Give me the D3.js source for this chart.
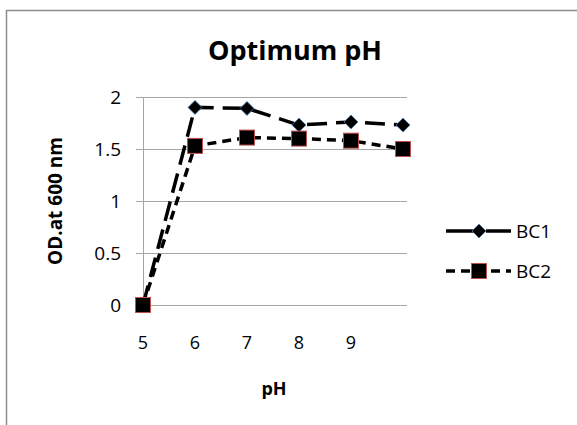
<!DOCTYPE html>
<html>
<head>
<meta charset="utf-8">
<script src="https://cdn.jsdelivr.net/npm/d3@7"></script>
<style>
  body { margin: 0; background: #fff; }
  text { font-family: "Open Sans", Lato, sans-serif; fill: #000; }
</style>
</head>
<body>
<div id="chart"></div>
<script>
var phValues = [5, 6, 7, 8, 9, 10];
var phLabels = ["5", "6", "7", "8", "9", ""];
var bc1 = [0, 1.90, 1.89, 1.73, 1.76, 1.73];
var bc2 = [0, 1.53, 1.61, 1.60, 1.58, 1.50];
var yTicks = [0, 0.5, 1, 1.5, 2];

var width = 577, height = 425;
var plot = {left: 143, right: 407, top: 97, bottom: 305};

var svg = d3.select("#chart").append("svg")
  .attr("width", width).attr("height", height);

// chart area frame
svg.append("rect")
  .attr("x", 6.5).attr("y", 10.5)
  .attr("width", 600).attr("height", 500)
  .attr("fill", "#fff").attr("stroke", "#8c8c8c").attr("stroke-width", 1.5);

var x = d3.scaleLinear().domain([5, 10]).range([plot.left, plot.left + 5 * 52]);
var y = d3.scaleLinear().domain([0, 2]).range([plot.bottom, plot.top]);

// gridlines (with outside tick marks)
svg.append("g").selectAll("line").data(yTicks).enter().append("line")
  .attr("x1", plot.left - 7).attr("x2", plot.right)
  .attr("y1", function(d) { return Math.round(y(d)) + 0.5; })
  .attr("y2", function(d) { return Math.round(y(d)) + 0.5; })
  .attr("stroke", "#a6a6a6").attr("stroke-width", 1);

// y axis line
svg.append("line")
  .attr("x1", plot.left + 0.5).attr("x2", plot.left + 0.5)
  .attr("y1", plot.top).attr("y2", plot.bottom)
  .attr("stroke", "#a6a6a6");

// y tick labels
svg.append("g").selectAll("text").data(yTicks).enter().append("text")
  .attr("x", plot.left - 22)
  .attr("y", function(d) { return y(d); })
  .attr("dy", "0.36em")
  .attr("text-anchor", "end")
  .attr("font-size", 19)
  .text(function(d) { return d; });

// x tick labels
svg.append("g").selectAll("text").data(phValues).enter().append("text")
  .attr("x", function(d) { return x(d); })
  .attr("y", 349)
  .attr("text-anchor", "middle")
  .attr("font-size", 18)
  .text(function(d, i) { return phLabels[i]; });

// titles
svg.append("text").attr("x", 295).attr("y", 60)
  .attr("text-anchor", "middle").attr("font-size", 27).attr("font-weight", "bold")
  .text("Optimum pH");
svg.append("text").attr("x", 274).attr("y", 395)
  .attr("text-anchor", "middle").attr("font-size", 18).attr("font-weight", "bold")
  .text("pH");
svg.append("text")
  .attr("transform", "translate(62," + 201 + ") rotate(-90)")
  .attr("text-anchor", "middle").attr("font-size", 19).attr("font-weight", "bold")
  .text("OD.at 600 nm");

var line = d3.line()
  .x(function(d, i) { return x(phValues[i]); })
  .y(function(d) { return y(d); });

var series = [
  {name: "BC1", values: bc1, dash: "20,9", marker: "diamond"},
  {name: "BC2", values: bc2, dash: "9,6", marker: "square"}
];

function drawMarker(g, kind, cx, cy) {
  if (kind === "diamond") {
    g.append("path")
      .attr("d", "M" + cx + "," + (cy - 7) + "L" + (cx + 7) + "," + cy + "L" + cx + "," + (cy + 7) + "L" + (cx - 7) + "," + cy + "Z")
      .attr("fill", "#000").attr("stroke", "#4a7ebb").attr("stroke-width", 0.8);
  } else {
    g.append("rect")
      .attr("x", cx - 7.5).attr("y", cy - 7.5)
      .attr("width", 15).attr("height", 15)
      .attr("fill", "#000").attr("stroke", "#c0504d").attr("stroke-width", 1);
  }
}

series.forEach(function(s) {
  svg.append("path").datum(s.values)
    .attr("fill", "none").attr("stroke", "#000")
    .attr("stroke-width", 3.5)
    .attr("stroke-dasharray", s.dash)
    .attr("d", line);
});
series.forEach(function(s) {
  var g = svg.append("g");
  s.values.forEach(function(v, i) { drawMarker(g, s.marker, x(phValues[i]), y(v)); });
});

// legend
var legendY = [231, 271];
series.forEach(function(s, i) {
  var g = svg.append("g");
  g.append("line")
    .attr("x1", 446).attr("x2", 511)
    .attr("y1", legendY[i]).attr("y2", legendY[i])
    .attr("stroke", "#000").attr("stroke-width", 3.5)
    .attr("stroke-dasharray", i === 0 ? "30,10" : "9,6");
  drawMarker(g, s.marker, 479, legendY[i]);
  g.append("text").attr("x", 516).attr("y", legendY[i]).attr("dy", "0.36em")
    .attr("font-size", 19).text(s.name);
});
</script>
</body>
</html>
